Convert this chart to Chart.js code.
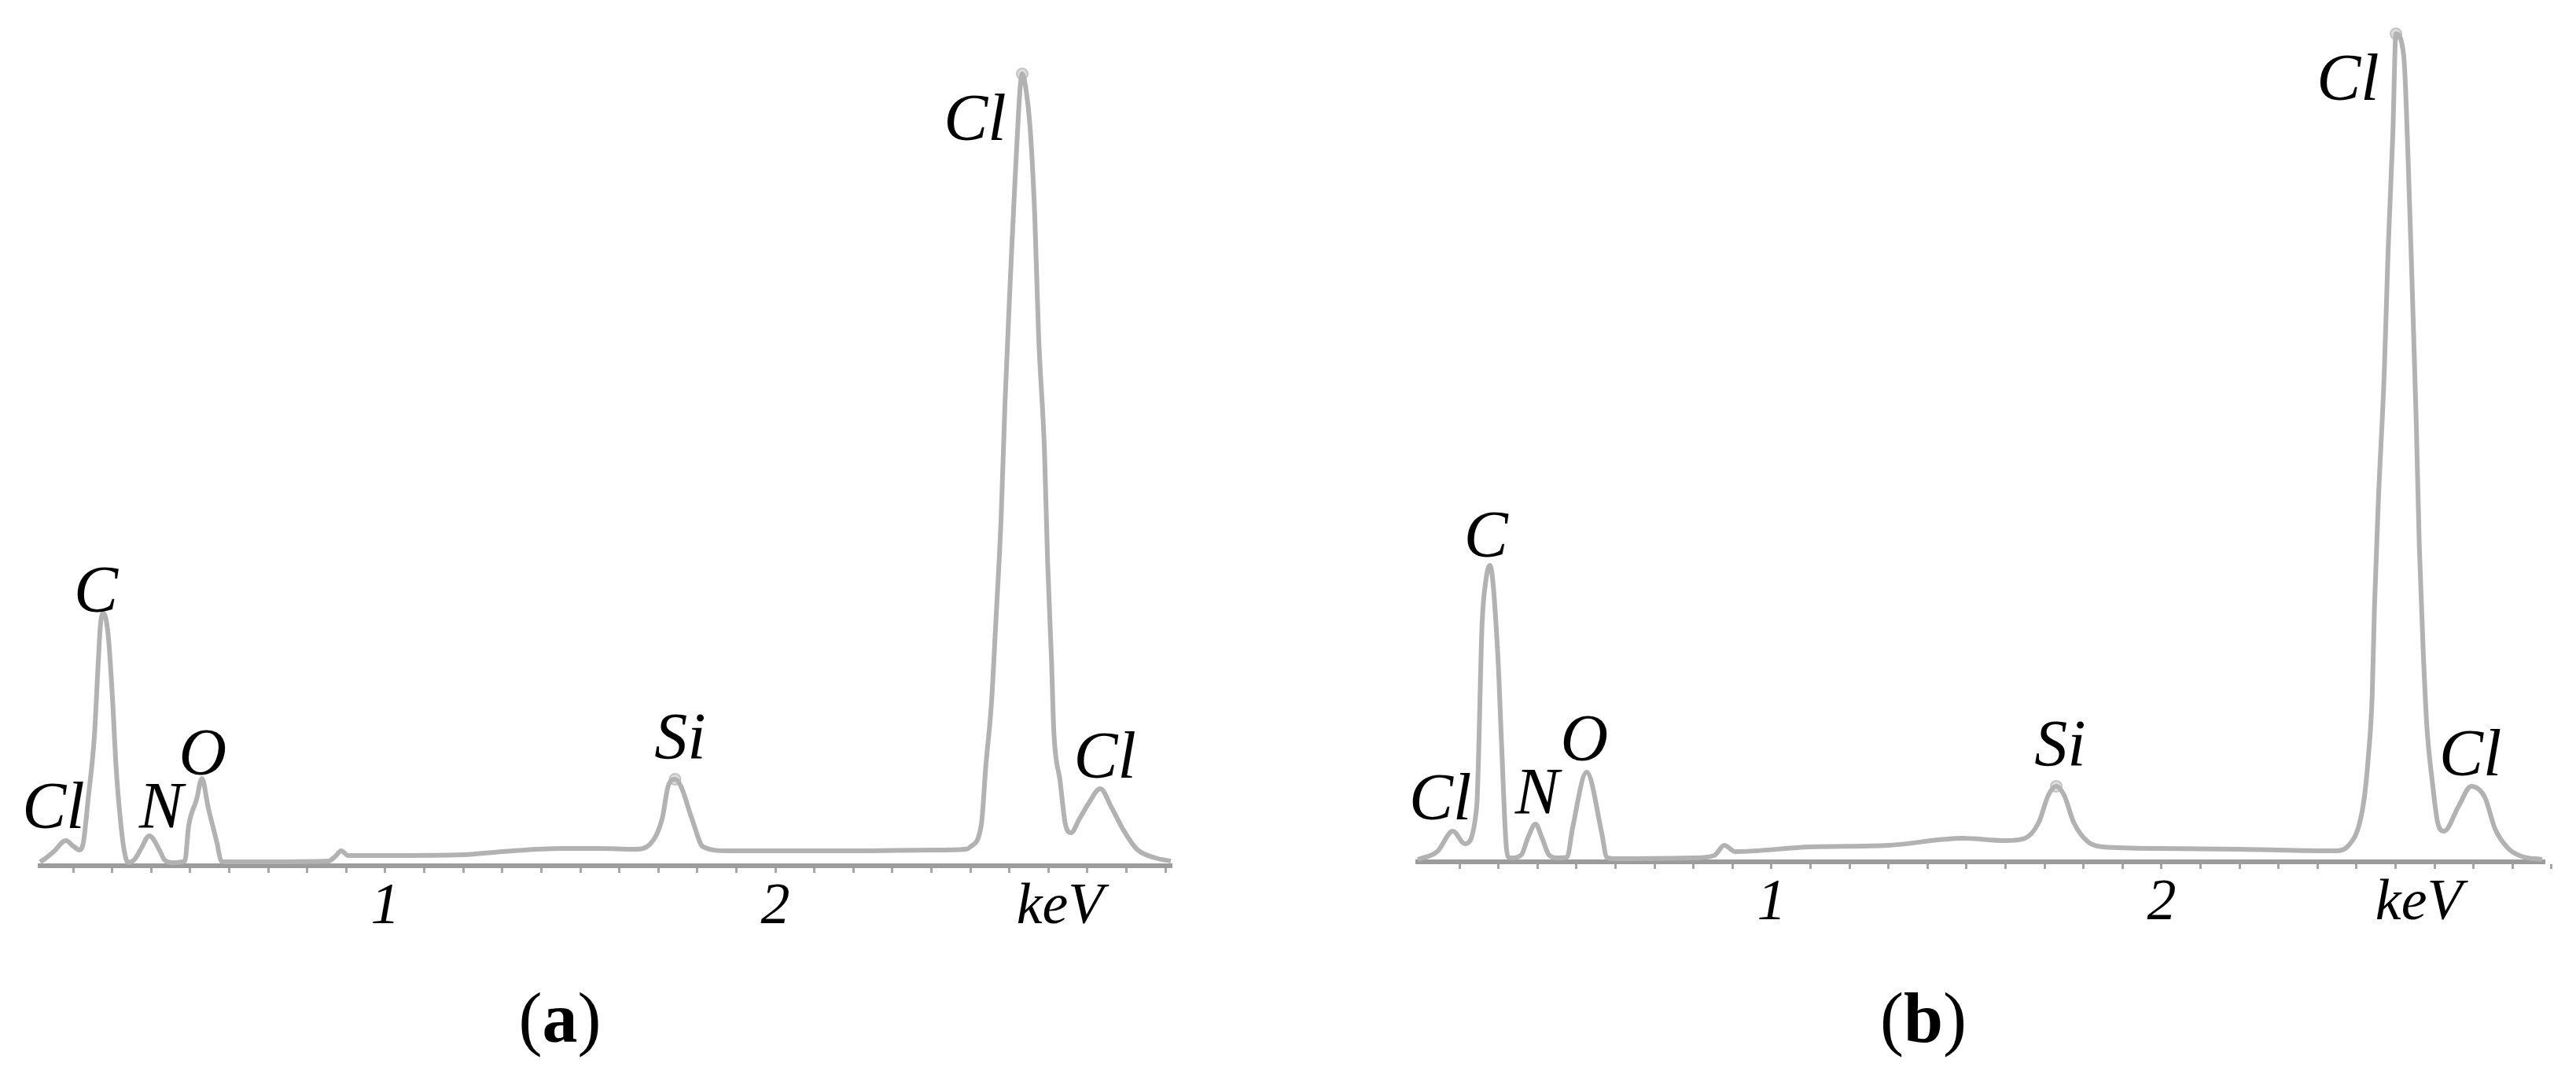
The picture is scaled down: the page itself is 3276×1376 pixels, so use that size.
<!DOCTYPE html>
<html>
<head>
<meta charset="utf-8">
<script src="https://cdn.jsdelivr.net/npm/chart.js@4.4.1/dist/chart.umd.min.js"></script>
<style>
  html, body { margin: 0; padding: 0; background: #fff; }
  body { width: 3276px; height: 1376px; position: relative; overflow: hidden; }
  canvas { position: absolute; top: 0; }
  #chartA { left: 0; }
  #chartB { left: 1638px; }
  .cap {
    position: absolute; top: 1250px;
    font-family: "Liberation Serif", serif; font-size: 90px; line-height: 1;
    color: #000; transform: translateX(-50%); white-space: nowrap;
  }
</style>
</head>
<body>
<canvas id="chartA" width="1638" height="1376"></canvas>
<canvas id="chartB" width="1638" height="1376"></canvas>
<div class="cap" style="left:712px">(<b>a</b>)</div>
<div class="cap" style="left:2446px">(<b>b</b>)</div>

<script>
// spectrum (a): energy in keV, counts (arbitrary units)
var energyA = [0.115, 0.125, 0.150, 0.181, 0.200, 0.216, 0.226, 0.238, 0.254, 0.264,
  0.270, 0.278, 0.290, 0.300, 0.310, 0.321, 0.331, 0.341, 0.357, 0.373,
  0.395, 0.423, 0.433, 0.454, 0.486, 0.496, 0.516, 0.530, 0.546, 0.569,
  0.579, 0.589, 0.700, 0.855, 0.872, 0.887, 0.905, 1.000, 1.200, 1.300,
  1.450, 1.550, 1.640, 1.680, 1.710, 1.725, 1.743, 1.758, 1.786, 1.815,
  1.877, 2.000, 2.200, 2.400, 2.488, 2.500, 2.528, 2.540, 2.554, 2.565,
  2.579, 2.589, 2.603, 2.615, 2.633, 2.643, 2.653, 2.665, 2.675, 2.690,
  2.698, 2.708, 2.714, 2.730, 2.744, 2.758, 2.780, 2.804, 2.833, 2.863,
  2.893, 2.927, 2.974, 3.014];
var countsA = [5, 8, 18, 32, 25, 20, 30, 84, 164, 258,
  308, 321, 291, 218, 124, 58, 18, 4, 8, 21,
  38, 18, 8, 4, 6, 51, 84, 111, 74, 28,
  6, 5, 5, 6, 12, 19, 13, 13, 14, 18,
  22, 22, 21, 28, 60, 101, 110, 101, 60, 24,
  19, 19, 19, 20, 21, 24, 52, 129, 206, 307,
  444, 591, 751, 877, 1007, 986, 940, 828, 674, 528,
  388, 262, 171, 108, 52, 42, 60, 80, 98, 73,
  45, 21, 10, 6];

// spectrum (b)
var energyB = [0.093, 0.143, 0.183, 0.214, 0.244, 0.258, 0.268, 0.278, 0.298, 0.308,
  0.319, 0.325, 0.335, 0.359, 0.375, 0.395, 0.412, 0.429, 0.450, 0.476,
  0.490, 0.526, 0.565, 0.577, 0.593, 0.800, 0.853, 0.879, 0.907, 1.100,
  1.300, 1.490, 1.600, 1.650, 1.685, 1.710, 1.730, 1.750, 1.775, 1.810,
  1.850, 2.000, 2.200, 2.450, 2.480, 2.506, 2.520, 2.530, 2.540, 2.546,
  2.556, 2.571, 2.581, 2.593, 2.601, 2.621, 2.633, 2.643, 2.653, 2.661,
  2.671, 2.681, 2.694, 2.708, 2.724, 2.762, 2.794, 2.829, 2.855, 2.889,
  2.923, 2.976];
var countsB = [3, 13, 39, 23, 69, 303, 359, 377, 266, 149,
  26, 6, 5, 9, 30, 48, 30, 9, 5, 6,
  43, 114, 36, 6, 4, 5, 8, 21, 13, 19,
  21, 30, 27, 30, 50, 85, 96, 85, 50, 26,
  19, 17, 16, 14, 21, 46, 82, 132, 210, 325,
  460, 621, 778, 925, 1053, 1025, 882, 725, 560, 400,
  267, 167, 103, 50, 39, 71, 96, 82, 42, 17,
  7, 3];

// small markers sitting on the main peaks
var markerKevA = [2.633, 1.743];
var markerCntA = [1007, 110];
var markerKevB = [2.601, 1.730];
var markerCntB = [1053, 96];

// element labels
var peakNames = ['Cl', 'C', 'N', 'O', 'Si', 'Cl', 'Cl'];
var peakKevA = [0.149, 0.258, 0.425, 0.532, 1.756, 2.512, 2.845];
var peakCntA = [48, 323, 48, 116, 136, 923, 112];
var peakKevB = [0.151, 0.268, 0.399, 0.520, 1.740, 2.478, 2.792];
var peakCntB = [54, 388, 61, 129, 122, 969, 110];

// axis ticks: minor ticks every 0.1 keV, labels at 1, 2 and the unit
var minorTicks = [0.2, 0.3, 0.4, 0.5, 0.6, 0.7, 0.8, 0.9, 1.0, 1.1, 1.2, 1.3, 1.4, 1.5,
  1.6, 1.7, 1.8, 1.9, 2.0, 2.1, 2.2, 2.3, 2.4, 2.5, 2.6, 2.7, 2.8, 2.9, 3.0];
var tickLabels = ['1', '2', 'keV'];
var tickKevA = [1, 2, 2.73];
var tickKevB = [1, 2, 2.66];

var peakLabelPlugin = {
  id: 'peakLabels',
  afterDatasetsDraw: function (chart, args, opts) {
    var ctx = chart.ctx, x = chart.scales.x, y = chart.scales.y;
    ctx.save();
    ctx.font = 'italic 84px "Liberation Serif"';
    ctx.fillStyle = '#000';
    ctx.textAlign = 'center';
    ctx.textBaseline = 'alphabetic';
    for (var i = 0; i < opts.names.length; i++) {
      ctx.fillText(opts.names[i], x.getPixelForValue(opts.kev[i]), y.getPixelForValue(opts.cnt[i]));
    }
    ctx.restore();
  }
};

function makeChart(id, p) {
  var unitKev = p.tickKev[2];
  var allTicks = minorTicks.concat([unitKev]);
  var points = p.energy.map(function (e, i) { return { x: e, y: p.counts[i] }; });
  var marks = p.markKev.map(function (e, i) { return { x: e, y: p.markCnt[i] }; });

  return new Chart(document.getElementById(id).getContext('2d'), {
    type: 'line',
    data: {
      datasets: [{
        data: points,
        borderColor: '#b2b2b2',
        borderWidth: 6,
        pointRadius: 0,
        fill: false,
        clip: false,
        cubicInterpolationMode: 'monotone'
      }, {
        type: 'scatter',
        data: marks,
        clip: false,
        pointRadius: 7,
        backgroundColor: '#dcdcdc',
        borderColor: '#c4c4c4',
        borderWidth: 2
      }]
    },
    options: {
      responsive: false,
      animation: false,
      devicePixelRatio: 1,
      layout: { padding: p.padding },
      plugins: {
        legend: { display: false },
        tooltip: { enabled: false },
        peakLabels: { names: peakNames, kev: p.peakKev, cnt: p.peakCnt }
      },
      scales: {
        x: {
          type: 'linear',
          min: p.xMin,
          max: p.xMax,
          afterBuildTicks: function (s) {
            s.ticks = allTicks.map(function (v) { return { value: v }; });
          },
          afterFit: function (s) { s.height = p.axisHeight; },
          ticks: {
            autoSkip: false,
            maxRotation: 0,
            padding: 0,
            color: '#000',
            font: { family: 'Liberation Serif', style: 'italic', size: 74 },
            callback: function (v) {
              for (var i = 0; i < p.tickKev.length; i++) {
                if (Math.abs(p.tickKev[i] - v) < 1e-6) return tickLabels[i];
              }
              return '';
            }
          },
          grid: {
            drawOnChartArea: false,
            tickLength: 9,
            lineWidth: 3,
            color: function (c) {
              return (c.tick && Math.abs(c.tick.value - unitKev) < 1e-6) ? 'rgba(0,0,0,0)' : '#a6a6a6';
            }
          },
          border: { color: '#9c9c9c', width: 6 }
        },
        y: {
          display: false,
          min: 0,
          max: p.yMax
        }
      }
    },
    plugins: [peakLabelPlugin]
  });
}

makeChart('chartA', {
  energy: energyA, counts: countsA,
  markKev: markerKevA, markCnt: markerCntA,
  peakKev: peakKevA, peakCnt: peakCntA,
  tickKev: tickKevA,
  xMin: 0.115, xMax: 3.014, yMax: 1061,
  padding: { left: 51, right: 149, top: 40, bottom: 0 },
  axisHeight: 275
});

makeChart('chartB', {
  energy: energyB, counts: countsB,
  markKev: markerKevB, markCnt: markerCntB,
  peakKev: peakKevB, peakCnt: peakCntB,
  tickKev: tickKevB,
  xMin: 0.093, xMax: 2.980, yMax: 1056,
  padding: { left: 165, right: 41, top: 40, bottom: 0 },
  axisHeight: 280
});
</script>
</body>
</html>
